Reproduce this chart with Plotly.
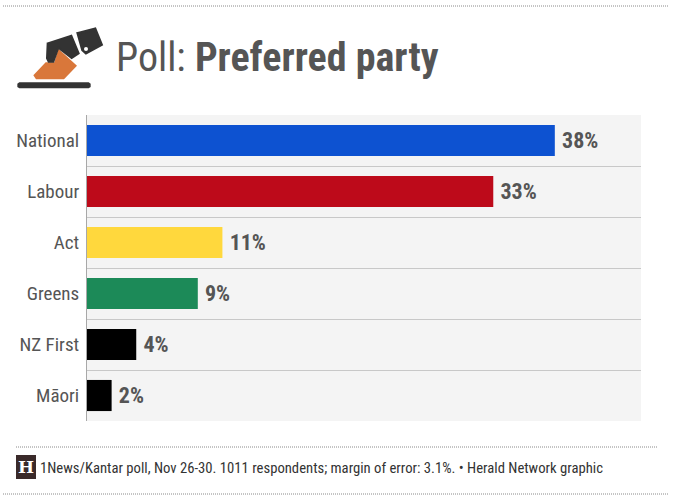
import plotly.graph_objects as go

W, H = 680, 498
L, R, T, B = 87, 39, 115, 77

parties = ["National", "Labour", "Act", "Greens", "NZ First", "Māori"]
values = [38, 33, 11, 9, 4, 2]
colors = ["#0d52d1", "#bd0a1a", "#ffd83d", "#1c8a58", "#000000", "#000000"]
labels = ["38%", "33%", "11%", "9%", "4%", "2%"]

FONT = "Roboto Condensed, Liberation Sans Narrow, Roboto, sans-serif"
GREY = "#555555"


def px(x):
    return x / (W - L - R) - L / (W - L - R)


def py(y):
    return 1 - (y - T) / (H - T - B)


def path(points):
    return "M" + " L".join(f"{px(x / 3):.5f},{py(y / 3):.5f}" for x, y in points) + " Z"


def paper_shape(**kw):
    return dict(xref="paper", yref="paper", **kw)


def dotted(y, x0, x1):
    return paper_shape(type="line", x0=px(x0), x1=px(x1), y0=py(y), y1=py(y),
                       line=dict(color="#8a8a8a", width=1, dash="1px,1px"))


shapes = [
    dotted(6, 3, 668),
    dotted(447, 16, 657),
    dotted(494, 3, 668),
    paper_shape(type="path", line=dict(width=0), fillcolor="#333333",
                path=path([(58, 247), (266, 247), (272, 251), (272, 261), (266, 265), (58, 265), (52, 261), (52, 251)])),
    paper_shape(type="path", line=dict(width=0), fillcolor="#d9773a",
                path=path([(175, 146), (231, 197), (192, 238), (108, 238), (100, 226), (137, 187), (163, 187)])),
    paper_shape(type="path", line=dict(color="#333333", width=2), fillcolor="#333333",
                path=path([(143, 130), (214, 107), (236, 160), (215, 174), (175, 143), (160, 185), (146, 185), (141, 175)])),
    paper_shape(type="path", line=dict(color="#333333", width=3), fillcolor="#333333",
                path=path([(234, 100), (285, 87), (304, 134), (258, 159), (248, 150)])),
    paper_shape(type="circle", line=dict(width=0), fillcolor="#ffffff",
                x0=px(84), x1=px(88), y0=py(47), y1=py(51)),
    paper_shape(type="rect", line=dict(width=0), fillcolor="#3a2a2a",
                x0=px(16), x1=px(36), y0=py(455), y1=py(479)),
]

annotations = [
    dict(xref="paper", yref="paper", x=px(114), y=py(57), xanchor="left", yanchor="middle",
         showarrow=False, text="Poll: <b>Preferred party</b>",
         font=dict(family=FONT, size=40, color=GREY)),
    dict(xref="paper", yref="paper", x=px(38), y=py(468), xanchor="left", yanchor="middle",
         showarrow=False, text="1News/Kantar poll, Nov 26-30. 1011 respondents; margin of error: 3.1%. • Herald Network graphic",
         font=dict(family=FONT, size=14.7, color="#333333")),
    dict(xref="paper", yref="paper", x=px(26), y=py(467), xanchor="center", yanchor="middle",
         showarrow=False, text="<b>H</b>",
         font=dict(family="DejaVu Serif", size=17, color="#ffffff")),
]

fig = go.Figure(go.Bar(
    x=values, y=parties, orientation="h", marker=dict(color=colors, line=dict(width=0)),
    text=labels, textposition="outside", cliponaxis=False,
    textfont=dict(family=FONT, size=22, color=GREY),
    texttemplate="\u2009<b>%{text}</b>",
))
fig.update_layout(
    width=W, height=H, margin=dict(l=L, r=R, t=T, b=B), autosize=False,
    paper_bgcolor="#ffffff", plot_bgcolor="#f4f4f4", showlegend=False, bargap=0.39,
    shapes=shapes, annotations=annotations,
    xaxis=dict(range=[0, 45], visible=False),
    yaxis=dict(autorange="reversed", tickson="boundaries", showgrid=True, gridcolor="#c8c8c8",
               gridwidth=1, showline=True, linecolor="#a8a8a8", linewidth=1, ticks="", ticklen=0,
               tickfont=dict(family=FONT, size=19, color=GREY), ticklabelstandoff=3, zeroline=False),
)
fig.write_html("out.html", config=dict(displayModeBar=False),
               post_script="document.body.style.margin='0';")
